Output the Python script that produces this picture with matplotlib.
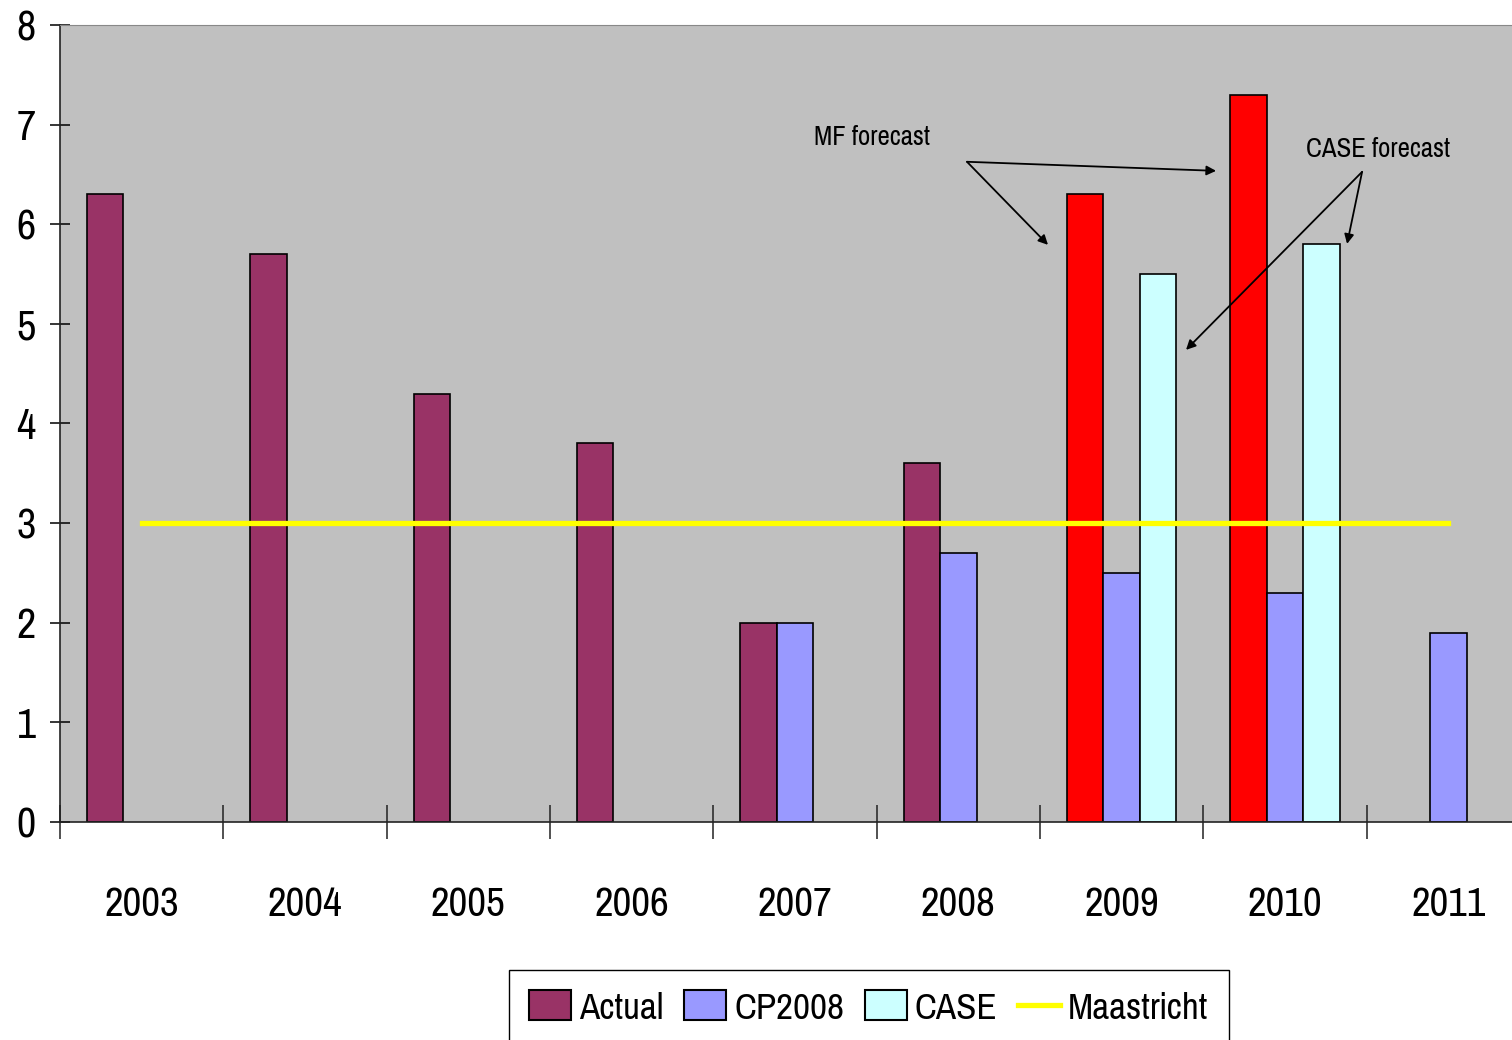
import numpy as np
import matplotlib.pyplot as plt
from matplotlib.patches import Patch
from matplotlib.lines import Line2D

plt.rcParams['font.family'] = ['Pragati Narrow', 'Archivo Narrow', 'DejaVu Sans']

# data
years = ['2003', '2004', '2005', '2006', '2007', '2008', '2009', '2010', '2011']
actual = [6.3, 5.7, 4.3, 3.8, 2.0, 3.6, 6.3, 7.3, np.nan]
mf_forecast = [False, False, False, False, False, False, True, True, False]
cp2008 = [np.nan, np.nan, np.nan, np.nan, 2.0, 2.7, 2.5, 2.3, 1.9]
case = [np.nan, np.nan, np.nan, np.nan, np.nan, np.nan, 5.5, 5.8, np.nan]
maastricht = 3.0

c_actual = '#993366'
c_cp = '#9999FF'
c_case = '#CCFFFF'
c_mf = '#FF0000'

fig = plt.figure(figsize=(15.12, 10.4), dpi=100)
ax = fig.add_axes([60 / 1512, 1 - 822 / 1040, 1470 / 1512, 797 / 1040])
ax.set_facecolor('#C0C0C0')

x = np.arange(len(years))
w = 0.2235
cols = [c_mf if f else c_actual for f in mf_forecast]
ax.bar(x - w, actual, w, color=cols, edgecolor='black', linewidth=1.2, zorder=2)
ax.bar(x, cp2008, w, color=c_cp, edgecolor='black', linewidth=1.2, zorder=2)
ax.bar(x + w, case, w, color=c_case, edgecolor='black', linewidth=1.2, zorder=2)
ax.plot([x[0], x[-1]], [maastricht, maastricht], color='#FFFF00', lw=3.8, zorder=3)

ax.set_xlim(-0.5, len(years) - 0.5)
ax.set_ylim(0, 8)
ax.set_yticks(range(0, 9))
ax.tick_params(axis='y', direction='inout', length=15, width=1.1, labelsize=33, pad=10)
ax.set_xticks(x)
ax.set_xticklabels(years)
ax.tick_params(axis='x', which='major', length=0, labelsize=32, pad=46)
ax.set_xticks(np.arange(-0.5, len(years), 1.0), minor=True)
ax.tick_params(axis='x', which='minor', direction='inout', length=24, width=1.1, color='#222222')

for s in ['left', 'bottom']:
    ax.spines[s].set_color('#222222')
    ax.spines[s].set_linewidth(1.2)
ax.spines['top'].set_color('#888888')
ax.spines['right'].set_visible(False)

# annotations
arr = dict(arrowstyle='-|>', color='black', lw=1.3, mutation_scale=14, shrinkA=0, shrinkB=0)
ax.text(4.472, 6.867, 'MF forecast', fontsize=21, ha='center', va='center')
ax.annotate('', xy=(5.549, 5.793), xytext=(5.053, 6.627), arrowprops=arr)
ax.annotate('', xy=(6.578, 6.536), xytext=(5.053, 6.627), arrowprops=arr)
ax.text(7.569, 6.747, 'CASE forecast', fontsize=21, ha='center', va='center')
ax.annotate('', xy=(6.394, 4.739), xytext=(7.472, 6.526), arrowprops=arr)
ax.annotate('', xy=(7.380, 5.803), xytext=(7.472, 6.526), arrowprops=arr)

handles = [Patch(facecolor=c_actual, edgecolor='black', linewidth=1.5),
           Patch(facecolor=c_cp, edgecolor='black', linewidth=1.5),
           Patch(facecolor=c_case, edgecolor='black', linewidth=1.5),
           Line2D([0], [0], color='#FFFF00', lw=3.8)]
leg = fig.legend(handles, ['Actual', 'CP2008', 'CASE', 'Maastricht'], loc='upper left',
                 bbox_to_anchor=(509 / 1512, 1 - 970 / 1040), borderaxespad=0, ncol=4,
                 fontsize=29, fancybox=False, framealpha=1, edgecolor='black',
                 handlelength=1.05, handleheight=0.75, handletextpad=0.2,
                 columnspacing=0.5, borderpad=0.5)
leg.get_frame().set_linewidth(1.0)

fig.savefig('out.png', dpi=100)
